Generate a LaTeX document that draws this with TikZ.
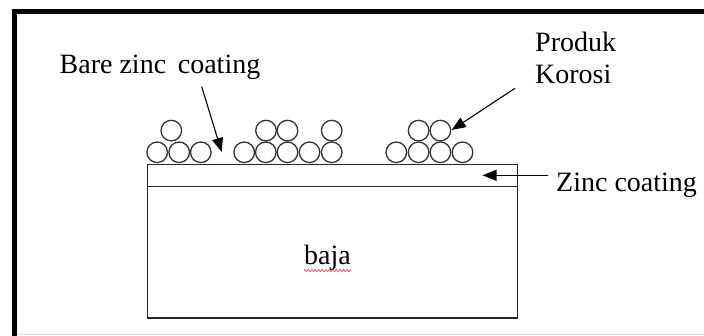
\documentclass[tikz,border=0pt]{standalone}
\usepackage{fontspec}
\setmainfont{Liberation Serif}
\usetikzlibrary{arrows.meta,decorations.pathmorphing}
\begin{document}
\begin{tikzpicture}[x=1pt,y=-1pt,
  lbl/.style={inner sep=0pt, anchor=base west, font=\fontsize{28}{32}\selectfont},
  ball/.style={circle, draw=black!80, line width=1.3pt, minimum size=20.6pt, inner sep=0pt},
  pointer/.style={draw, line width=1.1pt, -{Triangle[length=14pt,width=11pt]}},
  layer/.style={draw=black!85, line width=1.4pt, rectangle, inner sep=0pt, anchor=north west, minimum width=370pt},
  frame/.style={line width=5pt, line join=miter}]
\useasboundingbox (0,0) rectangle (704,336);
\fill[white] (0,0) rectangle (704,336);
% outer frame
\draw[frame] (14,336) -- (14,12) -- (704,12);
\draw[black!12, line width=1pt] (17,334.5) -- (704,334.5);
% layers
\node[layer, minimum height=22pt] (zinc) at (146.7,164) {};
\node[layer, minimum height=131.3pt] (steel) at (146.7,186) {};
\node[lbl] (bajatxt) at (304,265) {baja};
\draw[red!80, line width=0.6pt, decorate, decoration={zigzag, amplitude=1.2pt, segment length=3.5pt}]
  ([yshift=-5.5pt]bajatxt.base west) -- ([yshift=-5.5pt]bajatxt.base east);
% corrosion product balls
\foreach \x [count=\i] in {157.2,179.2,200.8} \node[ball] (ga\i) at (\x,152.3) {};
\node[ball] (gat1) at (171.3,130.6) {};
\foreach \x [count=\i] in {244.2,265.8,287.5,309.5,331.7} \node[ball] (gb\i) at (\x,152.3) {};
\foreach \x [count=\i] in {266.0,287.5,331.7} \node[ball] (gbt\i) at (\x,130.6) {};
\foreach \x [count=\i] in {396.3,418.6,440.4,462.5} \node[ball] (gc\i) at (\x,152.3) {};
\foreach \x [count=\i] in {418.6,440.4} \node[ball] (gct\i) at (\x,130.6) {};
% labels
\node[lbl] (bare) at (59.5,73.3) {Bare zinc\, coating};
\node[lbl] (produk) at (535,51.7) {Produk};
\node[lbl] (korosi) at (535,83.3) {Korosi};
\node[lbl] (zinctxt) at (556,191.7) {Zinc coating};
% arrows
\coordinate (bareTail) at (201.7,86.7);
\coordinate (bareTip) at (221.7,152);
\coordinate (korTail) at (515,88.3);
\coordinate (korTip) at (451.7,130);
\coordinate (zincTail) at (548,175.3);
\coordinate (zincTip) at (482.5,175.3);
\draw[pointer] (bareTail) -- (bareTip);
\draw[pointer] (korTail) -- (korTip);
\draw[pointer] (zincTail) -- (zincTip);
\end{tikzpicture}
\end{document}
